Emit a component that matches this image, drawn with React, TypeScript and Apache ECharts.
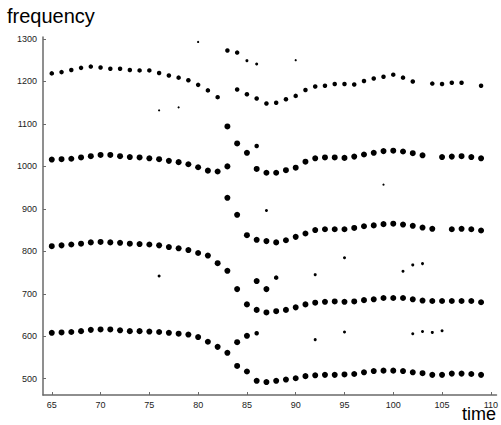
import React, { useEffect, useRef } from "react";
import * as echarts from "echarts";

// [time, frequency]
const trackA: number[][] = [
  [65, 1219], [66, 1222], [67, 1227], [68, 1232], [69, 1235], [70, 1233], [71, 1230], [72, 1230],
  [73, 1227], [74, 1226], [75, 1226], [76, 1220], [77, 1214], [78, 1209], [79, 1203], [80, 1192],
  [81, 1179], [82, 1163], [84, 1181], [85, 1170], [86, 1160], [87, 1148], [88, 1150], [89, 1158],
  [90, 1166], [91, 1180], [92, 1188], [93, 1190], [94, 1194], [95, 1194], [96, 1193], [97, 1201],
  [98, 1207], [99, 1211], [100, 1216], [101, 1209], [102, 1200], [104, 1195], [105, 1194],
  [106, 1197], [107, 1197], [109, 1190],
];

const trackB: number[][] = [
  [65, 1016], [66, 1017], [67, 1018], [68, 1021], [69, 1024], [70, 1027], [71, 1027], [72, 1024],
  [73, 1022], [74, 1021], [75, 1019], [76, 1017], [77, 1013], [78, 1010], [79, 1005], [80, 998],
  [81, 990], [82, 988], [83, 1000], [86, 994], [87, 985], [88, 985], [89, 991], [90, 997],
  [91, 1011], [92, 1019], [93, 1021], [94, 1021], [95, 1020], [96, 1023], [97, 1028], [98, 1032],
  [99, 1036], [100, 1037], [101, 1035], [102, 1031], [103, 1026], [105, 1022], [106, 1023],
  [107, 1024], [108, 1022], [109, 1019],
];

const trackC: number[][] = [
  [65, 812], [66, 814], [67, 816], [68, 818], [69, 821], [70, 822], [71, 821], [72, 820],
  [73, 818], [74, 817], [75, 816], [76, 814], [77, 810], [78, 807], [79, 803], [80, 796],
  [81, 790], [82, 772], [83, 754], [84, 711], [85, 675], [86, 662], [87, 656], [88, 659],
  [89, 662], [90, 668], [91, 675], [92, 679], [93, 681], [94, 682], [95, 681], [96, 682],
  [97, 685], [98, 687], [99, 690], [100, 690], [101, 690], [102, 687], [103, 684], [104, 683],
  [105, 683], [106, 683], [107, 683], [108, 683], [109, 680],
];

const trackC2: number[][] = [
  [84, 886], [85, 838], [86, 827], [87, 824], [88, 821], [89, 826], [90, 834], [91, 842],
  [92, 850], [93, 852], [94, 852], [95, 852], [96, 855], [97, 859], [98, 861], [99, 864],
  [100, 865], [101, 863], [102, 860], [103, 856], [104, 853], [106, 852], [107, 853],
  [108, 852], [109, 849],
];

const trackD: number[][] = [
  [65, 608], [66, 609], [67, 610], [68, 612], [69, 615], [70, 616], [71, 616], [72, 614],
  [73, 612], [74, 612], [75, 611], [76, 610], [77, 608], [78, 606], [79, 604], [80, 598],
  [81, 587], [82, 575], [83, 561], [84, 586], [85, 601],
];

const trackE: number[][] = [
  [84, 530], [85, 517], [86, 495], [87, 492], [88, 495], [89, 498], [90, 501], [91, 506],
  [92, 508], [93, 509], [94, 509], [95, 510], [96, 511], [97, 515], [98, 518], [99, 519],
  [100, 519], [101, 518], [102, 515], [103, 513], [104, 509], [105, 509], [106, 512],
  [107, 512], [108, 511], [109, 509],
];

const breakBig: number[][] = [
  [83, 1094], [84, 1054], [85, 1032], [83, 926], [86, 730], [87, 711],
];

const breakMedium: number[][] = [
  [86, 1048], [88, 738], [86, 607], [83, 1273], [84, 1268],
];

const strayRegular: number[][] = [
  [85, 1249], [86, 1241], [87, 896], [76, 742], [92, 745], [95, 785], [101, 753], [102, 768],
  [103, 771], [92, 592], [95, 610], [102, 606], [103, 611], [104, 609], [105, 613],
];

const strayTiny: number[][] = [
  [80, 1293], [78, 1139], [76, 1132], [90, 1250], [99, 957],
];

const xTicks = [65, 70, 75, 80, 85, 90, 95, 100, 105, 110];
const yTicks = [500, 600, 700, 800, 900, 1000, 1100, 1200, 1300];

export default function App() {
  const ref = useRef<HTMLDivElement>(null);

  useEffect(() => {
    if (!ref.current) return;
    const chart = echarts.init(ref.current, undefined, { renderer: "svg" });
    const axisColor = "#6a6a6a";
    const labelStyle = {
      color: "#222",
      fontSize: 9,
      fontFamily: "Liberation Sans, Arial, sans-serif",
      formatter: (v: number) => String(v),
    };
    const dot = (data: number[][], size: number) => ({
      type: "scatter" as const,
      data,
      symbol: "circle",
      symbolSize: size,
      itemStyle: { color: "#000", opacity: 1 },
      silent: true,
    });
    chart.setOption({
      animation: false,
      grid: { left: 43, top: 37, width: 455, height: 358, containLabel: false },
      xAxis: {
        type: "value",
        min: 64.1,
        max: 110.58,
        splitLine: { show: false },
        axisLine: { show: true, lineStyle: { color: axisColor, width: 1.5 } },
        axisTick: {
          show: true,
          inside: true,
          length: 3,
          lineStyle: { color: axisColor },
          customValues: xTicks,
        },
        axisLabel: { ...labelStyle, margin: 5, customValues: xTicks },
      },
      yAxis: {
        type: "value",
        min: 461.6,
        max: 1304.7,
        splitLine: { show: false },
        axisLine: { show: true, lineStyle: { color: axisColor, width: 1.5 } },
        axisTick: {
          show: true,
          inside: true,
          length: 3,
          lineStyle: { color: axisColor },
          customValues: yTicks,
        },
        axisLabel: { ...labelStyle, margin: 6, customValues: yTicks },
      },
      graphic: [
        {
          type: "text",
          left: 7,
          top: 6,
          style: {
            text: "frequency",
            fill: "#000",
            font: "20px 'Liberation Sans', Arial, sans-serif",
          },
        },
        {
          type: "text",
          x: 462,
          y: 423,
          style: {
            text: "time",
            fill: "#000",
            font: "18px 'Liberation Sans', Arial, sans-serif",
            verticalAlign: "bottom",
            align: "left",
          },
        },
      ],
      series: [
        dot(trackA, 4.5),
        dot(trackB, 6),
        dot(trackC, 6),
        dot(trackC2, 6),
        dot(trackD, 6),
        dot(trackE, 6),
        dot(breakBig, 6),
        dot(breakMedium, 4.5),
        dot(strayRegular, 3),
        dot(strayTiny, 2.2),
      ],
    });
    return () => chart.dispose();
  }, []);

  return (
    <div
      ref={ref}
      style={{ position: "absolute", left: 0, top: 0, width: 501, height: 425 }}
    />
  );
}
